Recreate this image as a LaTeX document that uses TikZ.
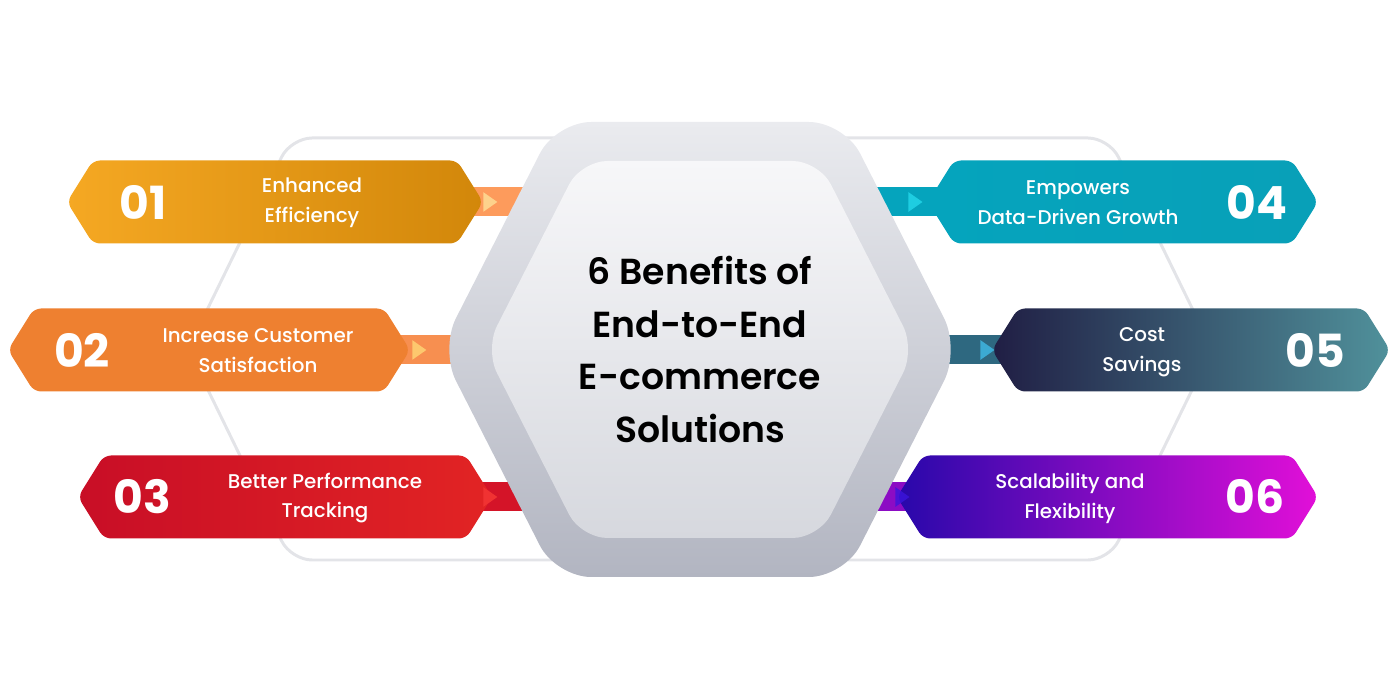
\documentclass[tikz,border=0pt]{standalone}
\usepackage{fontspec}
\setmainfont{Poppins}
\newfontfamily\hubfont{Poppins SemiBold}
\newfontfamily\lblfont{Poppins Medium}
\usetikzlibrary{shapes.symbols,shapes.geometric,backgrounds,positioning}

\definecolor{frameGray}{RGB}{227,228,232}
\definecolor{hubTop}{RGB}{234,235,239}
\definecolor{hubBot}{RGB}{178,181,193}
\definecolor{coreTop}{RGB}{247,247,249}
\definecolor{coreBot}{RGB}{214,216,222}
\definecolor{effLeft}{RGB}{245,168,35}
\definecolor{effRight}{RGB}{210,135,10}
\definecolor{effBar}{RGB}{253,155,92}
\definecolor{effTip}{RGB}{253,210,140}
\definecolor{satEdge}{RGB}{238,128,48}
\definecolor{satMid}{RGB}{252,160,95}
\definecolor{satBar}{RGB}{247,143,80}
\definecolor{satTip}{RGB}{253,200,110}
\definecolor{perfLeft}{RGB}{200,14,38}
\definecolor{perfRight}{RGB}{226,36,36}
\definecolor{perfBar}{RGB}{212,20,40}
\definecolor{perfTip}{RGB}{240,50,50}
\definecolor{dataLeft}{RGB}{5,164,189}
\definecolor{dataRight}{RGB}{8,160,184}
\definecolor{dataTip}{RGB}{30,205,225}
\definecolor{costLeft}{RGB}{32,30,68}
\definecolor{costMid}{RGB}{24,76,112}
\definecolor{costRight}{RGB}{80,145,155}
\definecolor{costBar}{RGB}{46,104,128}
\definecolor{costTip}{RGB}{60,170,210}
\definecolor{scaleLeft}{RGB}{40,8,170}
\definecolor{scaleRight}{RGB}{226,15,216}
\definecolor{scaleBar}{RGB}{140,12,196}
\definecolor{scaleTip}{RGB}{60,20,220}

\begin{document}
\begin{tikzpicture}[
    banner/.style={signal, signal to=west and east, signal pointer angle=116,
                   minimum height=16.6mm, inner sep=0pt, rounded corners=4pt},
    hubshape/.style={signal, signal to=west and east, signal pointer angle=126,
                     inner sep=0pt},
    bar/.style={line width=5.8mm},
    num/.style={text=white, font=\fontsize{26}{30}\selectfont\bfseries},
    lbl/.style={text=white, align=center, font=\lblfont\fontsize{11.3}{17}\selectfont},
    arr/.style={isosceles triangle, isosceles triangle apex angle=70,
                inner sep=0pt, minimum height=2.8mm}
  ]
  \useasboundingbox (0,0) rectangle (28,14);

  \node[hubshape, top color=hubTop, bottom color=hubBot, rounded corners=20pt,
        minimum width=104mm, minimum height=91mm] (hub) at (14,7.01) {};
  \node[hubshape, top color=coreTop, bottom color=coreBot, rounded corners=15pt,
        minimum width=86mm, minimum height=75.4mm] (core) at (hub.center) {};
  \node[align=center, font=\hubfont\fontsize{20.6}{30}\selectfont]
        (title) at (core.center) {6 Benefits of\\End-to-End\\E-commerce\\Solutions};

  \node[banner, left color=effLeft, right color=effRight, minimum width=83.2mm]
        (b1) at (5.5,9.96) {};
  \node[banner, left color=satEdge, middle color=satMid, right color=satEdge,
        minimum width=80.4mm] (b2) at (4.18,7.0) {};
  \node[banner, left color=perfLeft, right color=perfRight, minimum width=82.8mm]
        (b3) at (5.7,4.06) {};
  \node[banner, left color=dataLeft, right color=dataRight, minimum width=78mm]
        (b4) at (22.46,9.96) {};
  \node[banner, left color=costLeft, middle color=costMid, right color=costRight,
        minimum width=79.6mm] (b5) at (23.82,7.0) {};
  \node[banner, left color=scaleLeft, right color=scaleRight, minimum width=84.2mm]
        (b6) at (22.15,4.06) {};

  \node[num] (n1) at (2.86,9.96) {01};
  \node[num] (n2) at (1.64,7.0) {02};
  \node[num] (n3) at (2.84,4.06) {03};
  \node[num] (n4) at (25.14,9.96) {04};
  \node[num] (n5) at (26.3,7.0) {05};
  \node[num] (n6) at (25.1,4.06) {06};

  \node[lbl] (l1) at (6.24,9.94) {Enhanced\\Efficiency};
  \node[lbl] (l2) at (5.16,6.98) {Increase Customer\\Satisfaction};
  \node[lbl] (l3) at (6.5,4.04) {Better Performance\\Tracking};
  \node[lbl] (l4) at (21.56,9.94) {Empowers\\Data-Driven Growth};
  \node[lbl] (l5) at (22.84,6.95) {Cost\\Savings};
  \node[lbl] (l6) at (21.4,4.04) {Scalability and\\Flexibility};

  \node[arr, fill=effTip] (t1) at ([xshift=1mm]b1.east) {};
  \node[arr, fill=satTip] (t2) at ([xshift=1.4mm]b2.east) {};
  \node[arr, fill=perfTip] (t3) at ([xshift=-0.8mm]b3.east) {};
  \node[arr, fill=dataTip] (t4) at ([xshift=-2.8mm]b4.west) {};
  \node[arr, fill=costTip] (t5) at ([xshift=-1.2mm]b5.west) {};
  \node[arr, fill=scaleTip, opacity=0.8] (t6) at ([xshift=0.8mm]b6.west) {};

  \begin{scope}[on background layer]
    \node[signal, signal to=west and east, signal pointer angle=128, draw=frameGray,
          line width=1.7pt, rounded corners=12pt, minimum width=204.8mm,
          minimum height=84.4mm] (frame) at (14,7.02) {};
    \draw[bar, effBar] (b1.center) -- (b1.center -| hub.center);
    \draw[bar, satBar] (b2.center) -- (b2.center -| hub.center);
    \draw[bar, perfBar] (b3.center) -- (b3.center -| hub.center);
    \draw[bar, dataLeft] (b4.center) -- (b4.center -| hub.center);
    \draw[bar, costBar] (b5.center) -- (b5.center -| hub.center);
    \draw[bar, scaleBar] (b6.center) -- (b6.center -| hub.center);
  \end{scope}
\end{tikzpicture}
\end{document}
